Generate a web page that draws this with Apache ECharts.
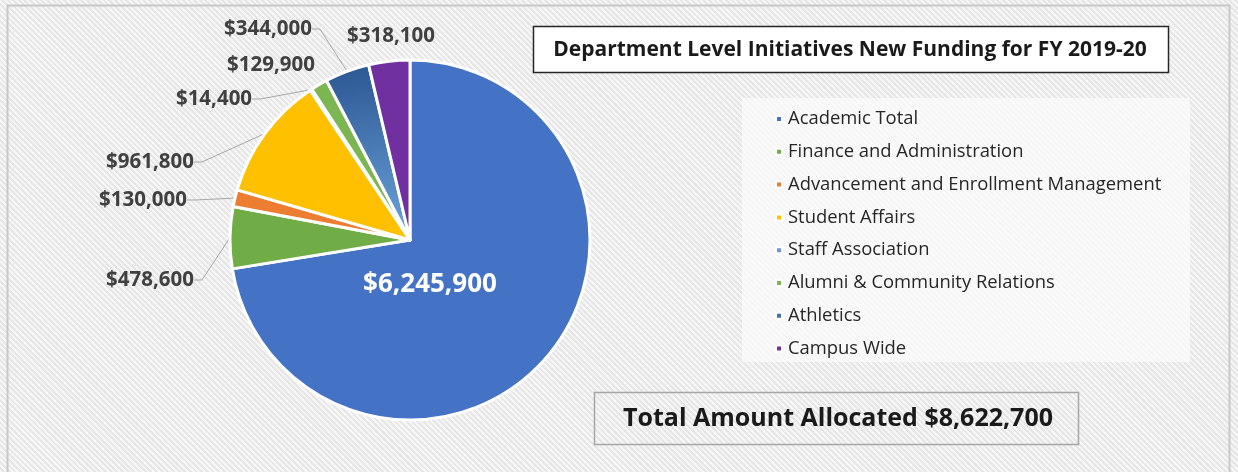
<!DOCTYPE html>
<html>
<head>
<meta charset="utf-8">
<script src="https://cdn.jsdelivr.net/npm/echarts@6/dist/echarts.min.js"></script>
<style>
  html, body {
    margin: 0;
    padding: 0;
  }
  #chart {
    width: 1238px;
    height: 472px;
    background: repeating-linear-gradient(45deg, #f6f6f6 0px, #f6f6f6 2px, #e6e6e6 2px, #e6e6e6 4px);
  }
</style>
</head>
<body>
<div id="chart"></div>
<script>
const categories = [
  'Academic Total',
  'Finance and Administration',
  'Advancement and Enrollment Management',
  'Student Affairs',
  'Staff Association',
  'Alumni & Community Relations',
  'Athletics',
  'Campus Wide'
]
const amounts = [6245900, 478600, 130000, 961800, 14400, 129900, 344000, 318100]
const totalAllocated = 8622700
const chartTitle = 'Department Level Initiatives New Funding for FY 2019-20'

const sliceColors = [
  '#4472c4', '#70ad47', '#ed7d31', '#ffc000',
  '#6f95d6', '#7cb653',
  { type: 'linear', x: 0, y: 0, x2: 0.3, y2: 1, colorStops: [{ offset: 0, color: '#2a5590' }, { offset: 1, color: '#6aa0d8' }] },
  '#7030a0'
]
// where Excel had put each data label (centre of the text)
const labelSpots = [[430, 285], [150, 280], [143, 200], [150, 162], [214, 99], [271, 65], [268, 29], [391, 36]]
const noLine = [0, 5, 7]

const money = v => '$' + v.toLocaleString('en-US')
const font = "'Open Sans', sans-serif"

const chart = echarts.init(document.getElementById('chart'))

const pieData = categories.map((name, i) => {
  const item = {
    name,
    value: amounts[i],
    itemStyle: { color: sliceColors[i] }
  }
  if (i === 0) {
    item.label = { position: 'inside', color: '#fff', fontSize: 26 }
  }
  if (noLine.includes(i)) {
    item.labelLine = { show: false }
  }
  return item
})

const options = {
  backgroundColor: 'transparent',
  textStyle: { fontFamily: font },
  legend: {
    orient: 'vertical',
    left: 775,
    top: 110,
    padding: 0,
    itemWidth: 6,
    itemHeight: 6,
    itemGap: 14.8,
    icon: 'rect',
    selectedMode: false,
    data: categories.map((name, i) => ({
      name,
      itemStyle: { color: i === 6 ? '#3f72b0' : sliceColors[i] }
    })),
    textStyle: {
      fontFamily: font,
      fontSize: 18.4,
      color: '#262626',
      padding: [0, 0, 0, 1]
    }
  },
  graphic: [
    {
      type: 'rect',
      shape: { x: 7.5, y: 5.5, width: 1222, height: 480 },
      style: { fill: 'none', stroke: '#c8c8c8', lineWidth: 2 },
      z: 0
    },
    {
      type: 'rect',
      shape: { x: 742, y: 98, width: 448, height: 264 },
      style: { fill: 'rgba(252,252,252,0.7)' },
      z: 0
    },
    {
      type: 'rect',
      shape: { x: 533.5, y: 26.5, width: 635, height: 46 },
      style: { fill: '#fff', stroke: '#262626', lineWidth: 1.5 },
      z: 0
    },
    {
      type: 'text',
      x: 850,
      y: 50,
      style: {
        text: chartTitle,
        font: "bold 21px 'Open Sans', sans-serif",
        fill: '#1a1a1a',
        align: 'center',
        verticalAlign: 'middle'
      },
      z: 1
    },
    {
      type: 'rect',
      shape: { x: 594.5, y: 392.5, width: 484, height: 52 },
      style: { fill: 'none', stroke: '#a6a6a6', lineWidth: 1.5 },
      z: 0
    },
    {
      type: 'text',
      x: 838,
      y: 419,
      style: {
        text: 'Total Amount Allocated ' + money(totalAllocated),
        font: "bold 25px 'Open Sans', sans-serif",
        fill: '#1a1a1a',
        align: 'center',
        verticalAlign: 'middle'
      },
      z: 1
    }
  ],
  series: [
    {
      type: 'pie',
      center: [410, 240],
      radius: 180,
      startAngle: 90,
      clockwise: true,
      avoidLabelOverlap: false,
      itemStyle: {
        borderColor: '#fff',
        borderWidth: 3
      },
      label: {
        show: true,
        position: 'outside',
        formatter: ({ value }) => money(value),
        fontFamily: font,
        fontWeight: 'bold',
        fontSize: 20.5,
        color: '#404040'
      },
      labelLine: {
        show: true,
        length: 12,
        length2: 8,
        smooth: false,
        lineStyle: { color: '#a6a6a6', width: 1 }
      },
      labelLayout: (params) => {
        const p = labelSpots[params.dataIndex]
        return { x: p[0], y: p[1], align: 'center', verticalAlign: 'middle' }
      },
      emphasis: { disabled: true },
      data: pieData
    }
  ]
}

chart.setOption(options)
</script>
</body>
</html>
